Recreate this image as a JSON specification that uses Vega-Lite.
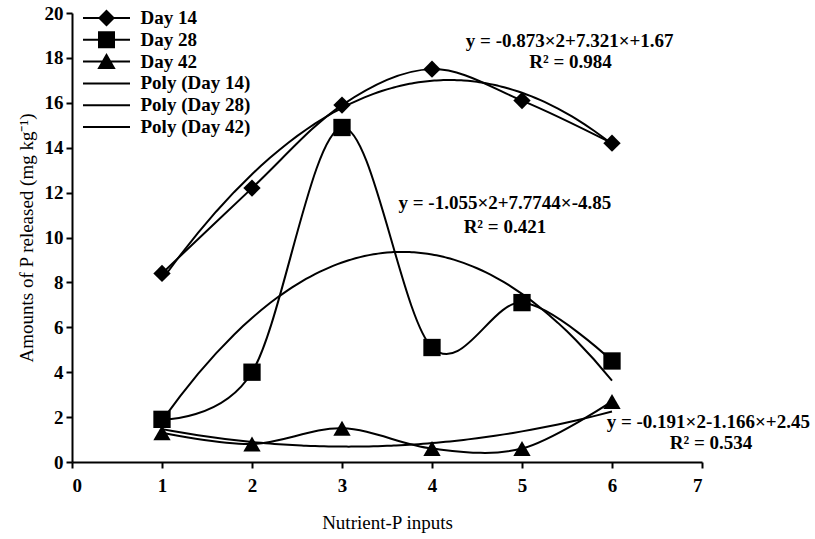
{
  "$schema": "https://vega.github.io/schema/vega-lite/v6.json",
  "width": 630,
  "height": 449,
  "autosize": {"type": "none"},
  "padding": {"left": 72, "top": 13, "right": 113, "bottom": 77},
  "background": "white",
  "datasets": {
    "obs": [
      {"series": "Day 14", "x": 1, "y": 8.4},
      {"series": "Day 14", "x": 2, "y": 12.2},
      {"series": "Day 14", "x": 3, "y": 15.9},
      {"series": "Day 14", "x": 4, "y": 17.5},
      {"series": "Day 14", "x": 5, "y": 16.1},
      {"series": "Day 14", "x": 6, "y": 14.2},
      {"series": "Day 28", "x": 1, "y": 1.9},
      {"series": "Day 28", "x": 2, "y": 4.0},
      {"series": "Day 28", "x": 3, "y": 14.9},
      {"series": "Day 28", "x": 4, "y": 5.1},
      {"series": "Day 28", "x": 5, "y": 7.1},
      {"series": "Day 28", "x": 6, "y": 4.5},
      {"series": "Day 42", "x": 1, "y": 1.3},
      {"series": "Day 42", "x": 2, "y": 0.8},
      {"series": "Day 42", "x": 3, "y": 1.5},
      {"series": "Day 42", "x": 4, "y": 0.6},
      {"series": "Day 42", "x": 5, "y": 0.6},
      {"series": "Day 42", "x": 6, "y": 2.7}
    ],
    "legendEntries": [
      {"entry": "Day 14"},
      {"entry": "Day 28"},
      {"entry": "Day 42"},
      {"entry": "Poly (Day 14)"},
      {"entry": "Poly (Day 28)"},
      {"entry": "Poly (Day 42)"}
    ],
    "notes": [
      {"label": "y = -0.873×2+7.321×+1.67", "x": 5.53, "y": 18.75},
      {"label": "R² = 0.984", "x": 5.54, "y": 17.82},
      {"label": "y = -1.055×2+7.7744×-4.85", "x": 4.81, "y": 11.54},
      {"label": "R² = 0.421", "x": 4.81, "y": 10.47},
      {"label": "y = -0.191×2-1.166×+2.45", "x": 7.07, "y": 1.78},
      {"label": "R² = 0.534", "x": 7.1, "y": 0.85}
    ]
  },
  "layer": [
    {
      "data": {"name": "obs"},
      "mark": {"type": "line", "interpolate": "cardinal", "color": "black", "strokeWidth": 2, "clip": false},
      "encoding": {
        "x": {"field": "x", "type": "quantitative", "scale": {"domain": [0, 7], "nice": false},
              "axis": {"values": [0, 1, 2, 3, 4, 5, 6, 7], "format": "d", "title": "Nutrient-P inputs", "labelPadding": 8, "titlePadding": 18}},
        "y": {"field": "y", "type": "quantitative", "scale": {"domain": [0, 20], "nice": false},
              "axis": {"values": [0, 2, 4, 6, 8, 10, 12, 14, 16, 18, 20], "format": "d", "title": "Amounts of P released (mg kg⁻¹)", "labelPadding": 3, "titlePadding": 8}},
        "detail": {"field": "series"}
      }
    },
    {
      "data": {"name": "obs"},
      "transform": [
        {"regression": "y", "on": "x", "groupby": ["series"], "method": "poly", "order": 2}
      ],
      "mark": {"type": "line", "color": "black", "strokeWidth": 2},
      "encoding": {
        "x": {"field": "x", "type": "quantitative"},
        "y": {"field": "y", "type": "quantitative"},
        "detail": {"field": "series"}
      }
    },
    {
      "data": {"name": "obs"},
      "mark": {"type": "point", "filled": true, "color": "black", "opacity": 1, "size": 300},
      "encoding": {
        "x": {"field": "x", "type": "quantitative"},
        "y": {"field": "y", "type": "quantitative"},
        "shape": {"field": "series", "type": "nominal",
                  "scale": {"domain": ["Day 14", "Day 28", "Day 42"], "range": ["diamond", "square", "triangle-up"]},
                  "legend": null}
      }
    },
    {
      "data": {"name": "notes"},
      "mark": {"type": "text", "font": "Liberation Serif", "fontWeight": "bold", "fontSize": 19, "color": "black", "align": "center", "baseline": "middle"},
      "encoding": {
        "x": {"field": "x", "type": "quantitative"},
        "y": {"field": "y", "type": "quantitative"},
        "text": {"field": "label"}
      }
    },
    {
      "data": {"name": "legendEntries"},
      "mark": {"type": "point", "opacity": 0, "filled": true, "color": "black"},
      "encoding": {
        "shape": {
          "field": "entry", "type": "nominal",
          "scale": {
            "domain": ["Day 14", "Day 28", "Day 42", "Poly (Day 14)", "Poly (Day 28)", "Poly (Day 42)"],
            "range": [
              "M-2.35,-0.1H2.35V0.1H-2.35ZM0,-0.85L0.85,0L0,0.85L-0.85,0Z",
              "M-2.35,-0.1H2.35V0.1H-2.35ZM-0.85,-0.85H0.85V0.85H-0.85Z",
              "M-2.35,-0.1H2.35V0.1H-2.35ZM0,-0.85L0.92,0.75H-0.92Z",
              "M-2.35,-0.1H2.35V0.1H-2.35Z",
              "M-2.35,-0.1H2.35V0.1H-2.35Z",
              "M-2.35,-0.1H2.35V0.1H-2.35Z"
            ]
          },
          "legend": {
            "title": null,
            "orient": "none",
            "legendX": 24.5,
            "legendY": -5,
            "symbolSize": 400,
            "symbolStrokeWidth": 0,
            "symbolFillColor": "black",
            "symbolOpacity": 1,
            "labelFont": "Liberation Serif",
            "labelFontWeight": "bold",
            "labelFontSize": 19,
            "labelColor": "black",
            "labelOffset": 24,
            "gridAlign": "all",
            "rowPadding": 1.8,
            "encode": {"symbols": {"update": {"opacity": {"value": 1}, "fill": {"value": "black"}, "fillOpacity": {"value": 1}}}}
          }
        }
      }
    }
  ],
  "resolve": {"scale": {"shape": "independent"}, "legend": {"shape": "independent"}},
  "config": {
    "view": {"stroke": null},
    "font": "Liberation Serif",
    "axis": {
      "grid": false,
      "domainColor": "black",
      "domainWidth": 2,
      "tickColor": "black",
      "tickWidth": 2,
      "tickSize": 6,
      "labelFont": "Liberation Serif",
      "labelFontWeight": "bold",
      "labelFontSize": 19,
      "labelColor": "black",
      "titleFont": "Liberation Serif",
      "titleFontWeight": "normal",
      "titleFontSize": 19,
      "titleColor": "black"
    }
  }
}
